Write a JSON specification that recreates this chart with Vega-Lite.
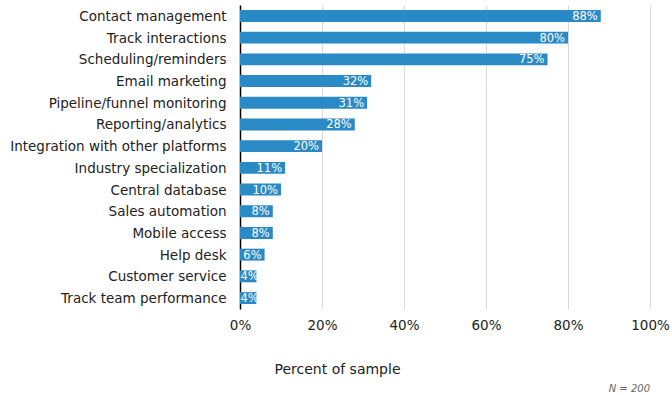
{
  "$schema": "https://vega.github.io/schema/vega-lite/v6.json",
  "width": 410,
  "height": 304,
  "padding": {"left": 9, "top": 5, "right": 4, "bottom": 4},
  "background": "white",
  "config": {
    "font": "DejaVu Sans",
    "view": {"stroke": null}
  },
  "title": {
    "text": "N = 200",
    "orient": "bottom",
    "anchor": "end",
    "frame": "group",
    "fontSize": 10,
    "fontStyle": "italic",
    "fontWeight": "normal",
    "color": "#666666",
    "offset": 8
  },
  "data": {
    "values": [
      {"feature": "Contact management", "pct": 88},
      {"feature": "Track interactions", "pct": 80},
      {"feature": "Scheduling/reminders", "pct": 75},
      {"feature": "Email marketing", "pct": 32},
      {"feature": "Pipeline/funnel monitoring", "pct": 31},
      {"feature": "Reporting/analytics", "pct": 28},
      {"feature": "Integration with other platforms", "pct": 20},
      {"feature": "Industry specialization", "pct": 11},
      {"feature": "Central database", "pct": 10},
      {"feature": "Sales automation", "pct": 8},
      {"feature": "Mobile access", "pct": 8},
      {"feature": "Help desk", "pct": 6},
      {"feature": "Customer service", "pct": 4},
      {"feature": "Track team performance", "pct": 4}
    ]
  },
  "transform": [
    {"calculate": "max(datum.pct, 5.3)", "as": "labelPos"},
    {"calculate": "datum.pct + '%'", "as": "label"}
  ],
  "encoding": {
    "y": {
      "field": "feature",
      "type": "nominal",
      "sort": null,
      "scale": {"paddingInner": 0.45, "paddingOuter": 0.23},
      "axis": {
        "title": null,
        "ticks": false,
        "domainColor": "#000000",
        "domainWidth": 1.5,
        "labelFontSize": 13.5,
        "labelLimit": 400,
        "labelColor": "#222222",
        "labelPadding": 14,
        "labelOffset": 1,
        "grid": false
      }
    }
  },
  "layer": [
    {
      "mark": {"type": "bar", "color": "#2a8ac6"},
      "encoding": {
        "x": {
          "field": "pct",
          "type": "quantitative",
          "scale": {"domain": [0, 100], "nice": false},
          "axis": {
            "values": [0, 20, 40, 60, 80, 100],
            "labelExpr": "datum.value + '%'",
            "domain": false,
            "ticks": false,
            "grid": true,
            "gridColor": "#d9d9d9",
            "gridWidth": 1,
            "labelFontSize": 13.5,
            "labelColor": "#222222",
            "labelPadding": 9,
            "labelFlush": false,
            "title": "Percent of sample",
            "titleFontSize": 14,
            "titleFontWeight": "normal",
            "titleColor": "#222222",
            "titleAnchor": "start",
            "titleAlign": "center",
            "titleBaseline": "alphabetic",
            "titleX": 97,
            "titleY": 64
          }
        }
      }
    },
    {
      "mark": {"type": "text", "align": "right", "baseline": "middle", "dx": -3, "dy": 1, "color": "white", "fontSize": 11.5},
      "encoding": {
        "x": {"field": "labelPos", "type": "quantitative"},
        "text": {"field": "label"}
      }
    }
  ]
}
